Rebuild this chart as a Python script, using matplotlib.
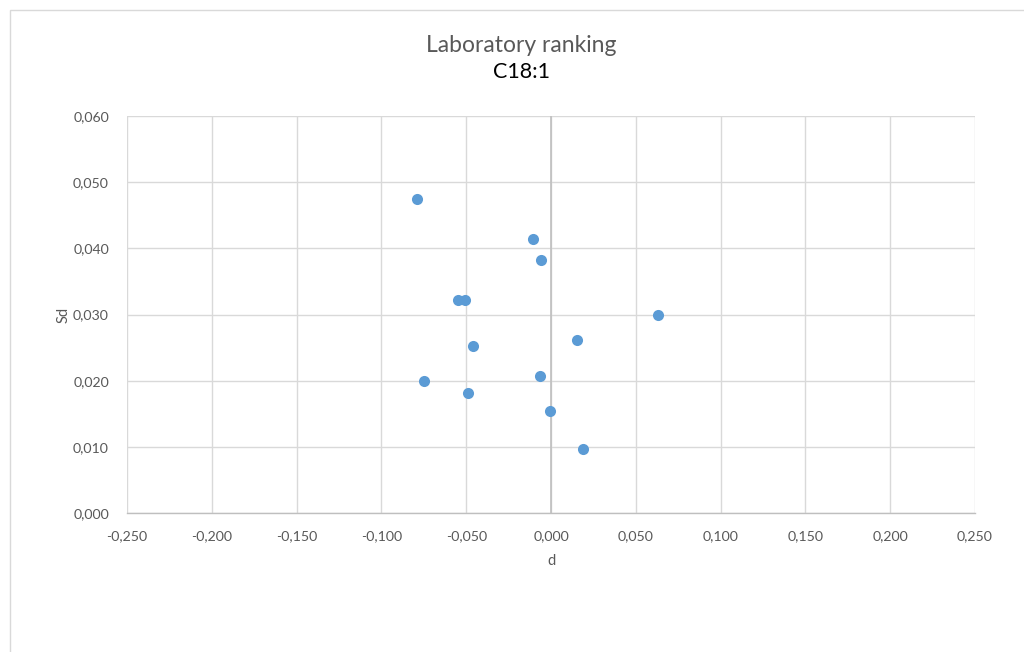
import matplotlib
matplotlib.use("Agg")
import matplotlib.pyplot as plt
from matplotlib.patches import Rectangle
from matplotlib.ticker import FixedLocator

plt.rcParams['font.family'] = ['Lato', 'DejaVu Sans']

d_values = [-0.0788, -0.0106, -0.0057, -0.0547, -0.0510, 0.0633, 0.0153,
            -0.0461, -0.0749, -0.0063, -0.0488, -0.0004, 0.0190]
sd_values = [0.0475, 0.0414, 0.0383, 0.0322, 0.0322, 0.0299, 0.0262,
             0.0253, 0.0199, 0.0207, 0.0181, 0.0154, 0.0096]
x_ticks = [-0.25, -0.20, -0.15, -0.10, -0.05, 0.0, 0.05, 0.10, 0.15, 0.20, 0.25]
y_ticks = [0.0, 0.01, 0.02, 0.03, 0.04, 0.05, 0.06]

def fmt(v):
    return f"{v:.3f}".replace(".", ",")

fig = plt.figure(figsize=(10.24, 6.52), dpi=100)
fig.patches.append(Rectangle((10/1024, -0.01), 1.1, 1 - 10/652 + 0.01,
                             transform=fig.transFigure, fill=False,
                             edgecolor='#D9D9D9', linewidth=1))
ax = fig.add_axes([127/1024, 1 - 513/652, (975 - 127)/1024, (513 - 116)/652])

ax.set_xlim(-0.25, 0.25)
ax.set_ylim(0, 0.06)
ax.xaxis.set_major_locator(FixedLocator(x_ticks))
ax.yaxis.set_major_locator(FixedLocator(y_ticks))
ax.set_xticklabels([fmt(v) for v in x_ticks])
ax.set_yticklabels([fmt(v) for v in y_ticks])
ax.grid(True, color='#D9D9D9', linewidth=1)
ax.set_axisbelow(True)
for s in ['top', 'right', 'left']:
    ax.spines[s].set_visible(False)
ax.spines['bottom'].set_color('#BFBFBF')
ax.spines['bottom'].set_linewidth(1)
ax.axvline(0, color='#BFBFBF', linewidth=1.2, zorder=1)
ax.tick_params(length=0, labelsize=10.2, labelcolor='#595959')
ax.tick_params(axis='x', pad=12)
ax.tick_params(axis='y', pad=13)

ax.scatter(d_values, sd_values, s=64, color='#5B9BD5', zorder=3, linewidths=0)

ax.set_xlabel('d', fontsize=10.5, color='#595959', labelpad=9)
ax.set_ylabel('Sd', fontsize=10.5, color='#595959', labelpad=2)

fig.text(521/1024, 1 - 45/652, 'Laboratory ranking', ha='center', va='center',
         fontsize=16.5, color='#595959')
fig.text(521/1024, 1 - 72/652, 'C18:1', ha='center', va='center',
         fontsize=15.5, color='#000000')

fig.savefig('out.png', dpi=100)
